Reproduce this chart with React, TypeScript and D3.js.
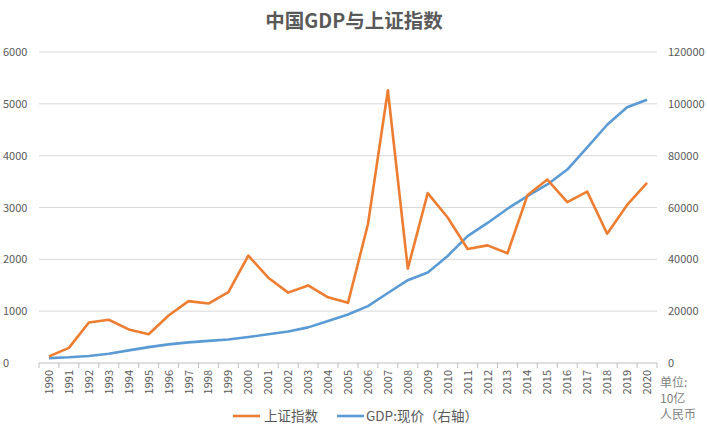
import * as d3 from "d3";

const years = d3.range(1990, 2021).map(String);
const shIndex = [
  127, 292, 780, 834, 648, 555, 917, 1194, 1147, 1367, 2073, 1646, 1358, 1497, 1267, 1161,
  2676, 5262, 1821, 3277, 2808, 2199, 2269, 2116, 3235, 3539, 3104, 3307, 2494, 3050, 3473,
];
const gdp = [
  1887, 2201, 2719, 3567, 4864, 6134, 7181, 7972, 8520, 9056, 10028, 11086, 12172, 13742,
  16184, 18732, 21944, 27023, 31952, 34908, 41303, 48930, 54037, 59524, 64397, 68886, 74640,
  83204, 91928, 98652, 101599,
];
const leftTicks = [0, 1000, 2000, 3000, 4000, 5000, 6000];
const rightTicks = [0, 20000, 40000, 60000, 80000, 100000, 120000];

const W = 707;
const H = 434;
const plot = { left: 39, right: 657, top: 52, bottom: 363 };
const textColor = "#595959";
const font = "'Noto Sans CJK SC', 'Noto Sans', sans-serif";

export default function App() {
  const x = d3.scaleBand().domain(years).range([plot.left, plot.right]).padding(0);
  const yL = d3.scaleLinear().domain([0, 6000]).range([plot.bottom, plot.top]);
  const yR = d3.scaleLinear().domain([0, 120000]).range([plot.bottom, plot.top]);
  const cx = (i: number) => (x(years[i]) ?? 0) + x.bandwidth() / 2;

  const lineL = d3.line<number>().x((_, i) => cx(i)).y((d) => yL(d));
  const lineR = d3.line<number>().x((_, i) => cx(i)).y((d) => yR(d));

  const boundaries = years.map((y) => x(y) ?? 0).concat([plot.right]);

  return (
    <svg
      width={W}
      height={H}
      style={{ position: "absolute", left: 0, top: 0, fontFamily: font, background: "#fff" }}
    >
      <text x={354} y={28} textAnchor="middle" fontSize={19.5} fontWeight="bold" fill={textColor}>
        中国GDP与上证指数
      </text>

      {/* gridlines */}
      {leftTicks.slice(1).map((t) => (
        <line key={t} x1={plot.left} x2={plot.right} y1={yL(t)} y2={yL(t)} stroke="#d9d9d9" strokeWidth={1} />
      ))}

      {/* left axis labels */}
      {leftTicks.map((t) => (
        <text key={t} x={3} y={yL(t) + 4} fontSize={11} fill={textColor}>
          {t}
        </text>
      ))}

      {/* right axis labels */}
      {rightTicks.map((t) => (
        <text key={t} x={668} y={yR(t) + 4} fontSize={11} fill={textColor}>
          {t}
        </text>
      ))}

      {/* x axis */}
      <line x1={plot.left} x2={plot.right} y1={plot.bottom} y2={plot.bottom} stroke="#bfbfbf" />
      {boundaries.map((b, i) => (
        <line key={i} x1={b} x2={b} y1={plot.bottom} y2={plot.bottom + 5} stroke="#bfbfbf" />
      ))}
      {years.map((y, i) => (
        <text
          key={y}
          transform={`translate(${cx(i) + 4},${plot.bottom + 7}) rotate(-90)`}
          textAnchor="end"
          fontSize={11}
          fill={textColor}
        >
          {y}
        </text>
      ))}

      {/* series */}
      <path d={lineR(gdp) ?? ""} fill="none" stroke="#5B9BD5" strokeWidth={2.6} strokeLinejoin="round" />
      <path d={lineL(shIndex) ?? ""} fill="none" stroke="#ED7D31" strokeWidth={2.6} strokeLinejoin="round" />

      {/* unit note */}
      <g fontSize={12} fill="#7f7f7f">
        <text x={660} y={387}>单位:</text>
        <text x={660} y={403}>10亿</text>
        <text x={660} y={419}>人民币</text>
      </g>

      {/* legend */}
      <g fontSize={13.5} fill={textColor}>
        <line x1={233} x2={260} y1={416} y2={416} stroke="#ED7D31" strokeWidth={2.6} />
        <text x={264} y={421}>上证指数</text>
        <line x1={337} x2={364} y1={416} y2={416} stroke="#5B9BD5" strokeWidth={2.6} />
        <text x={366} y={421}>GDP:现价（右轴）</text>
      </g>
    </svg>
  );
}
